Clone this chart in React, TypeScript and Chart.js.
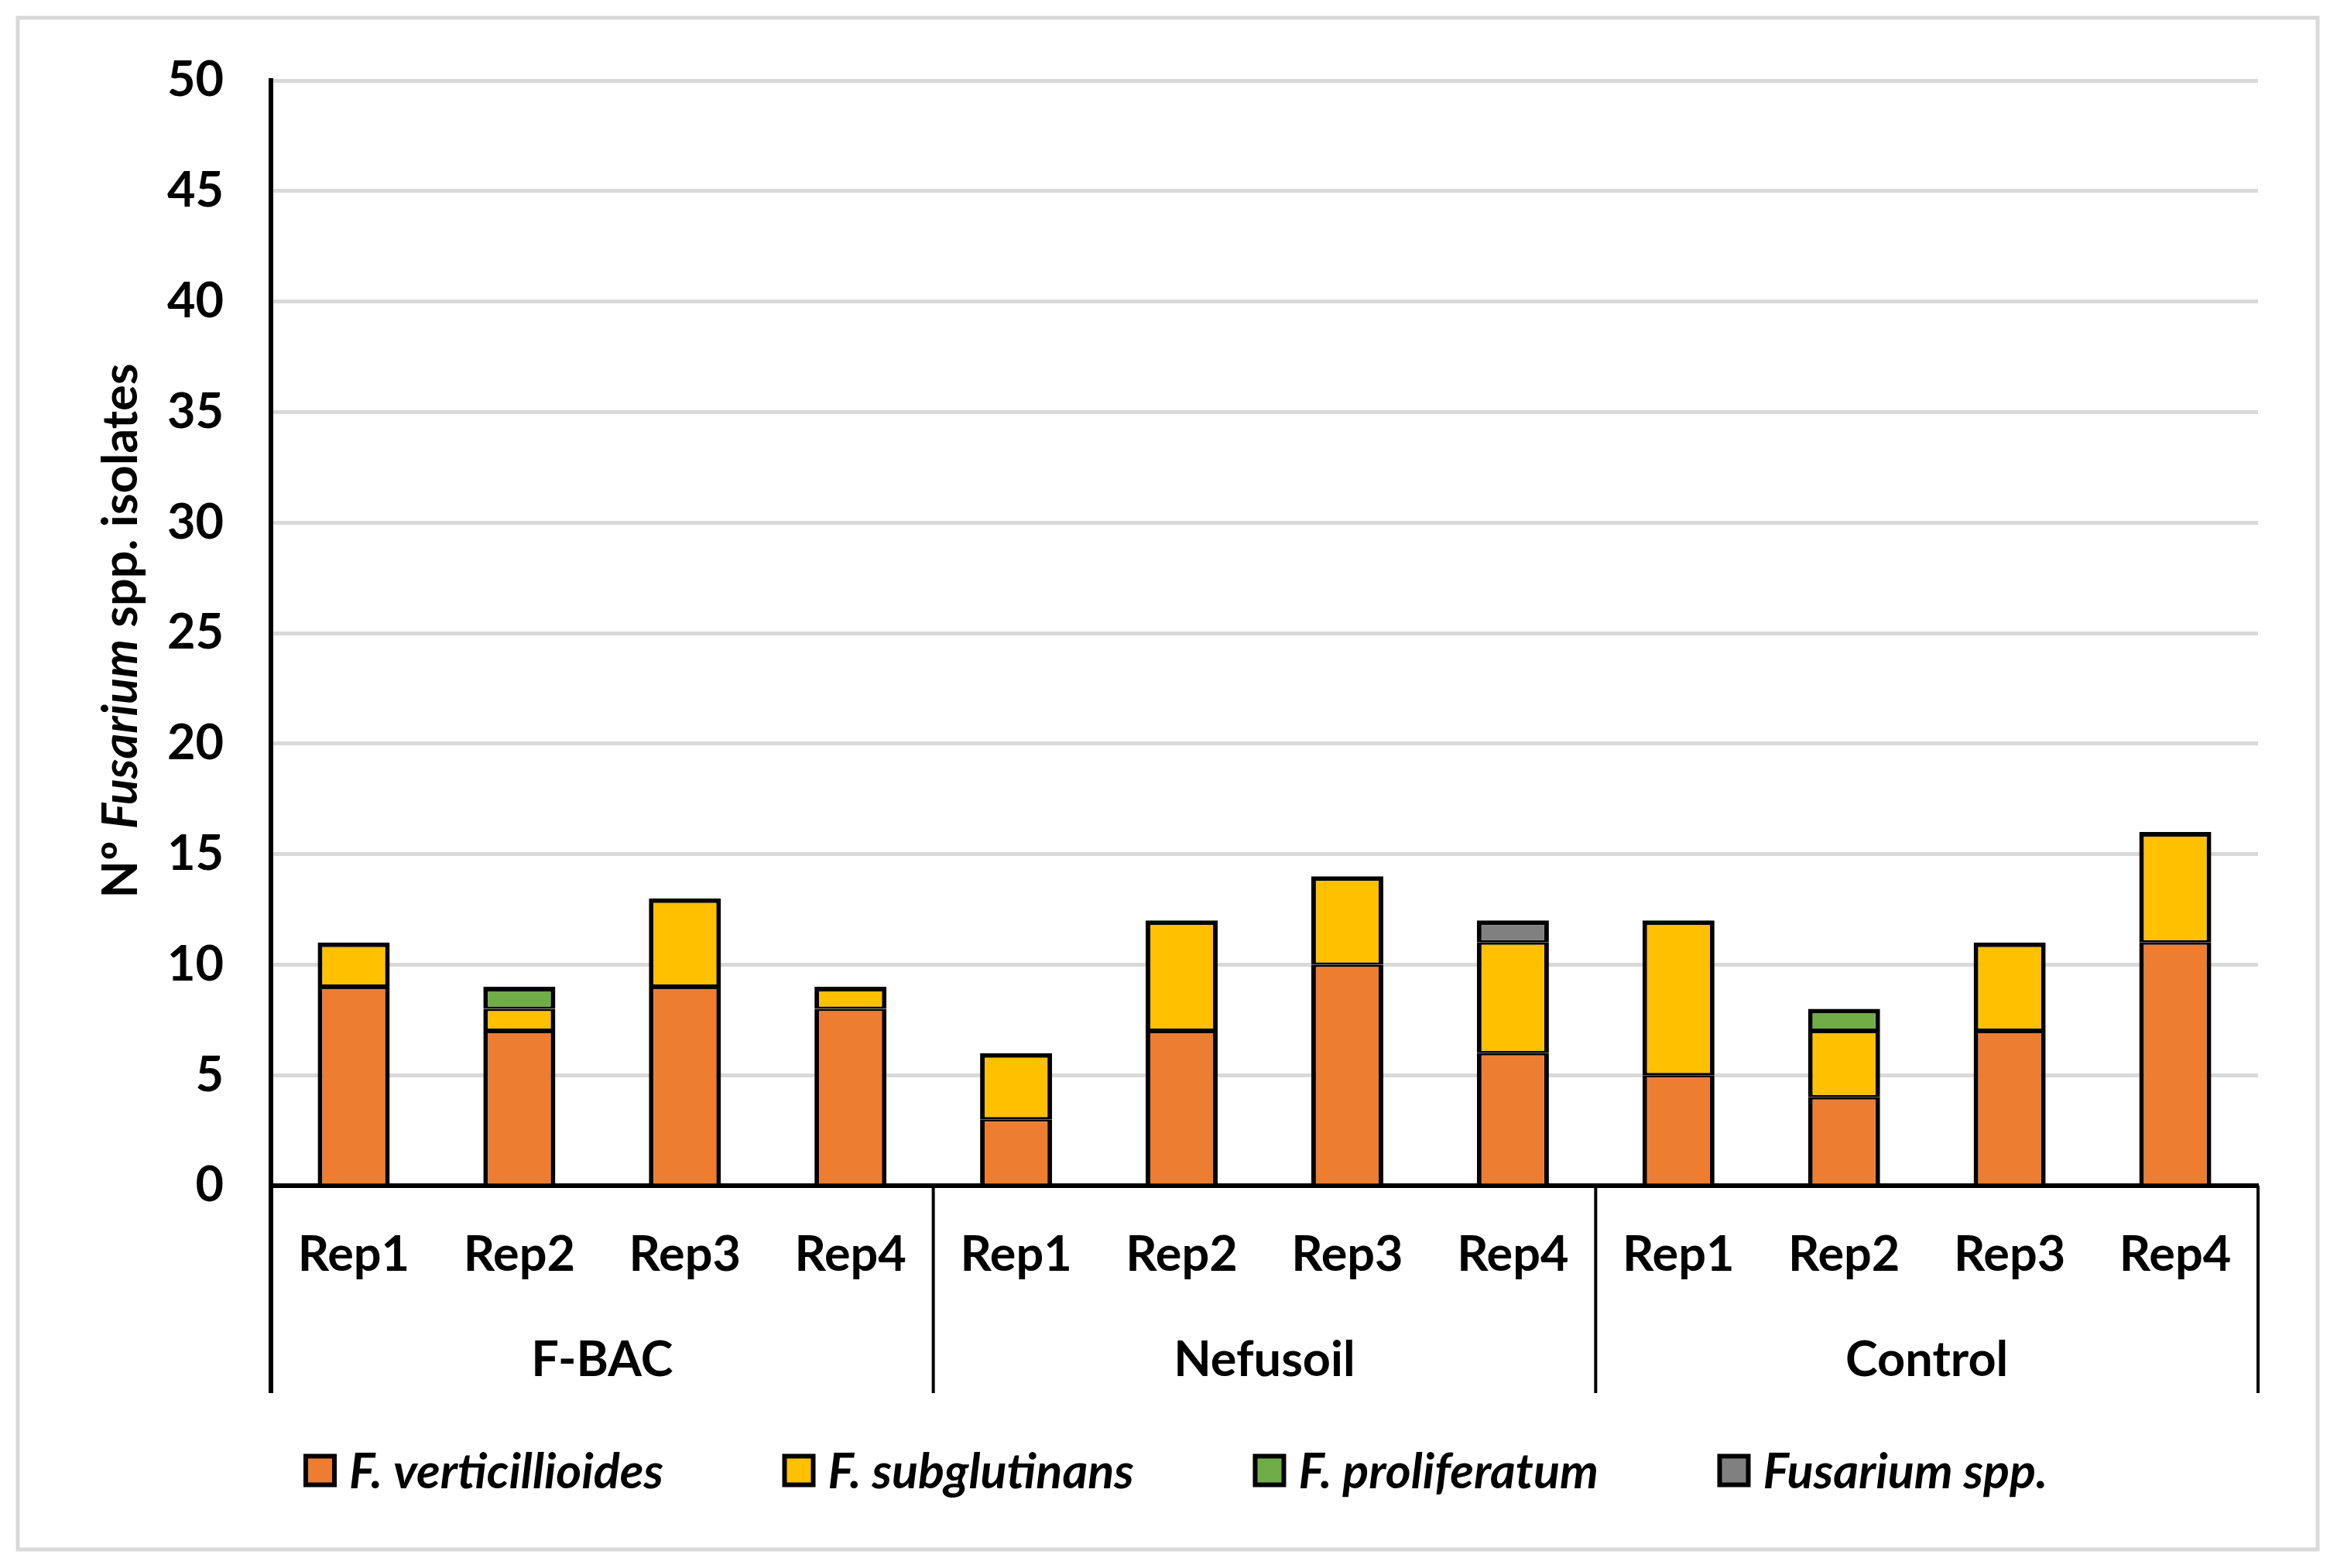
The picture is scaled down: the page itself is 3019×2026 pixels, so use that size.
import React, { useEffect, useRef } from 'react';
import { Chart, registerables } from 'chart.js';

Chart.register(...registerables);

// ---------- data ----------
const categories = ['Rep1', 'Rep2', 'Rep3', 'Rep4', 'Rep1', 'Rep2', 'Rep3', 'Rep4', 'Rep1', 'Rep2', 'Rep3', 'Rep4'];
const groups = ['F-BAC', 'Nefusoil', 'Control'];
const groupSize = 4;
const verticillioides = [9, 7, 9, 8, 3, 7, 10, 6, 5, 4, 7, 11];
const subglutinans = [2, 1, 4, 1, 3, 5, 4, 5, 7, 3, 4, 5];
const proliferatum = [0, 1, 0, 0, 0, 0, 0, 0, 0, 1, 0, 0];
const fusariumSpp = [0, 0, 0, 0, 0, 0, 0, 1, 0, 0, 0, 0];
const seriesLabels = ['F. verticillioides', 'F. subglutinans', 'F. proliferatum', 'Fusarium spp.'];
const seriesColors = ['#ED7D31', '#FFC000', '#70AD47', '#808080'];
const yMin = 0;
const yMax = 50;
const yStep = 5;
const yTitleParts = [
  { text: 'Nº ', italic: false },
  { text: 'Fusarium', italic: true },
  { text: ' spp. isolates', italic: false },
];

// ---------- styling constants ----------
const W = 3019;
const H = 2026;
const FONT = 'Lato';
const FONT_SIZE = 63;

const decorPlugin = {
  id: 'decor',
  beforeDraw(chart: any) {
    const ctx = chart.ctx;
    ctx.save();
    ctx.fillStyle = '#ffffff';
    ctx.fillRect(0, 0, W, H);
    ctx.strokeStyle = '#d9d9d9';
    ctx.lineWidth = 5;
    ctx.strokeRect(23, 23, 2994 - 23, 2002 - 23);
    ctx.restore();
  },
  afterDraw(chart: any) {
    const ctx = chart.ctx;
    const xs = chart.scales.x;
    const area = chart.chartArea;
    const sepBottom = 1800;
    ctx.save();
    ctx.strokeStyle = '#000';

    // y-axis line extension below plot
    ctx.lineWidth = 6;
    ctx.beginPath();
    ctx.moveTo(area.left, area.bottom);
    ctx.lineTo(area.left, sepBottom);
    ctx.stroke();

    // group separators
    ctx.lineWidth = 4;
    for (let g = 1; g <= groups.length; g++) {
      const idx = g * groupSize;
      let x: number;
      if (idx >= categories.length) x = area.right;
      else x = (xs.getPixelForTick(idx - 1) + xs.getPixelForTick(idx)) / 2;
      ctx.beginPath();
      ctx.moveTo(x, area.bottom);
      ctx.lineTo(x, sepBottom);
      ctx.stroke();
    }

    // group labels
    ctx.fillStyle = '#000';
    ctx.font = `bold ${FONT_SIZE}px ${FONT}`;
    ctx.textAlign = 'center';
    ctx.textBaseline = 'middle';
    groups.forEach((name, g) => {
      const a = xs.getPixelForTick(g * groupSize);
      const b = xs.getPixelForTick(g * groupSize + groupSize - 1);
      ctx.fillText(name, (a + b) / 2, 1758);
    });

    // legend
    const box = 43;
    const boxBorder = 6;
    const boxGap = 16;
    const legendLeft = 392;
    const legendRight = 2645;
    const legendY = 1900;
    ctx.font = `italic bold ${FONT_SIZE}px ${FONT}`;
    const widths = seriesLabels.map((l) => ctx.measureText(l).width);
    const itemsW = widths.reduce((s, w) => s + box + boxGap + w, 0);
    const itemGap = (legendRight - legendLeft - itemsW) / (seriesLabels.length - 1);
    let lx = legendLeft;
    ctx.textAlign = 'left';
    seriesLabels.forEach((label, i) => {
      ctx.fillStyle = '#000';
      ctx.fillRect(lx, legendY - box / 2, box, box);
      ctx.fillStyle = seriesColors[i];
      ctx.fillRect(lx + boxBorder, legendY - box / 2 + boxBorder, box - 2 * boxBorder, box - 2 * boxBorder);
      ctx.fillStyle = '#000';
      ctx.fillText(label, lx + box + boxGap, legendY + 3);
      lx += box + boxGap + widths[i] + itemGap;
    });

    // y-axis title
    ctx.translate(154, 815);
    ctx.rotate(-Math.PI / 2);
    const fontFor = (it: boolean) => `${it ? 'italic ' : ''}bold ${FONT_SIZE}px ${FONT}`;
    const pw = yTitleParts.map((p) => {
      ctx.font = fontFor(p.italic);
      return ctx.measureText(p.text).width;
    });
    let tx = -pw.reduce((s, w) => s + w, 0) / 2;
    ctx.textBaseline = 'middle';
    yTitleParts.forEach((p, i) => {
      ctx.font = fontFor(p.italic);
      ctx.fillText(p.text, tx, 3);
      tx += pw[i];
    });
    ctx.restore();
  },
};

export default function App() {
  const ref = useRef<HTMLCanvasElement | null>(null);

  useEffect(() => {
    document.body.style.margin = '0';
    const canvas = ref.current;
    if (!canvas) return;
    const seriesData = [verticillioides, subglutinans, proliferatum, fusariumSpp];

    const borderWidthFn = (ctx: any) => {
      const d = ctx.datasetIndex;
      const i = ctx.dataIndex;
      const dsets = ctx.chart.data.datasets;
      let isTop = true;
      for (let k = d + 1; k < dsets.length; k++) {
        if (dsets[k].data[i]) isTop = false;
      }
      return { top: isTop ? 6 : 3, bottom: d === 0 ? 0 : 3, left: 6, right: 6 };
    };

    const chart = new Chart(canvas, {
      type: 'bar',
      data: {
        labels: categories,
        datasets: seriesData.map((data, k) => ({
          label: seriesLabels[k],
          data,
          backgroundColor: seriesColors[k],
          borderColor: '#000000',
          borderWidth: borderWidthFn as any,
          borderSkipped: false as any,
          barPercentage: 0.435,
          categoryPercentage: 1,
        })),
      },
      options: {
        responsive: false,
        animation: false,
        devicePixelRatio: 1,
        layout: { padding: { left: 50, top: 104, right: W - 2917, bottom: 0 } },
        plugins: {
          legend: { display: false },
          tooltip: { enabled: false },
          title: { display: false },
        },
        scales: {
          x: {
            stacked: true,
            grid: { display: false, drawTicks: false },
            border: { display: true, color: '#000000', width: 6 },
            ticks: {
              color: '#000000',
              padding: 52,
              maxRotation: 0,
              autoSkip: false,
              font: { family: FONT, size: FONT_SIZE, weight: 'bold' },
            },
            afterFit: (s: any) => {
              s.height = H - 1532;
            },
          },
          y: {
            stacked: true,
            min: yMin,
            max: yMax,
            grid: { color: '#d9d9d9', lineWidth: 5, drawTicks: false },
            border: { display: true, color: '#000000', width: 6 },
            ticks: {
              stepSize: yStep,
              color: '#000000',
              padding: 61,
              font: { family: FONT, size: FONT_SIZE, weight: 'bold' },
            },
            afterFit: (s: any) => {
              s.width = 300;
            },
          },
        },
      },
      plugins: [decorPlugin],
    });
    return () => chart.destroy();
  }, []);

  return (
    <div style={{ width: W, height: H, overflow: 'hidden' }}>
      <canvas ref={ref} width={W} height={H} style={{ display: 'block', width: W, height: H }} />
    </div>
  );
}
